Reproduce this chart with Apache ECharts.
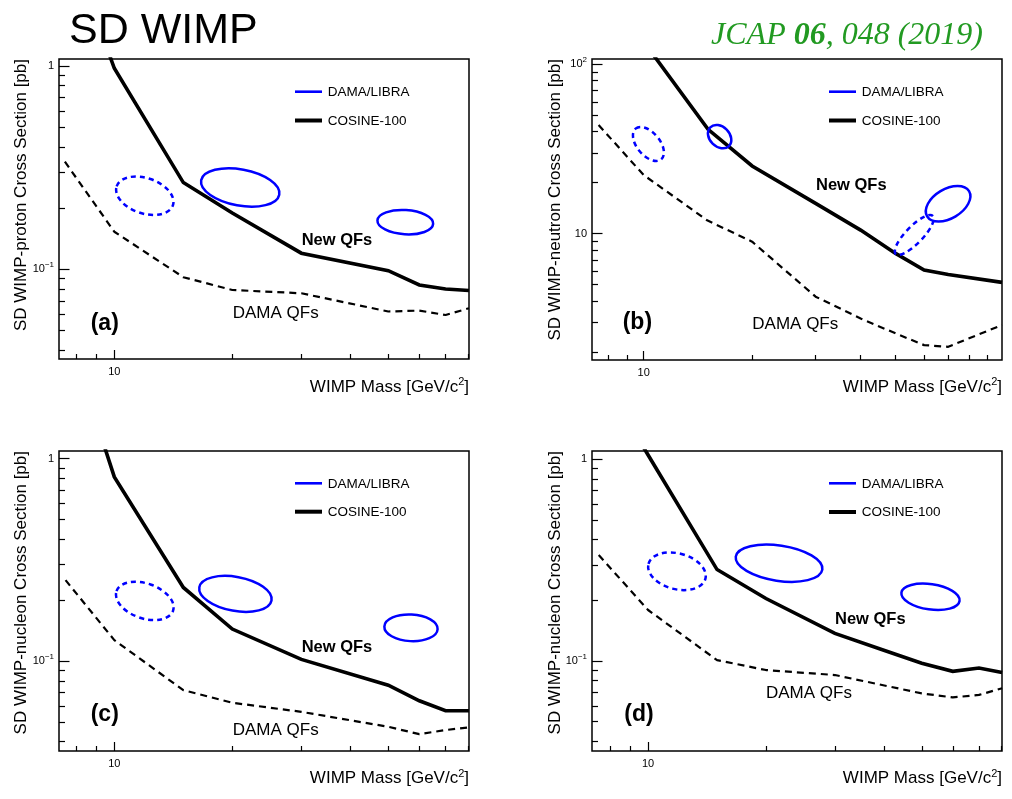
<!DOCTYPE html>
<html><head><meta charset="utf-8">
<script src="https://cdn.jsdelivr.net/npm/echarts@6/dist/echarts.min.js"></script>
<style>html,body{margin:0;padding:0;background:#fff}#c{width:1012px;height:799px}</style>
</head><body><div id="c"></div>
<script>
// ---------- data (mass in GeV/c^2, cross section in pb) ----------
// axis ranges
const xRangeA = [7.226, 80.33], yRangeA = [0.0362, 1.082];
const xRangeB = [7.19, 98.7],   yRangeB = [1.797, 107.4];
const xRangeC = [7.226, 80.33], yRangeC = [0.0360, 1.090];
const xRangeD = [7.19, 80.15],  yRangeD = [0.0358, 1.099];

// tick values
const xMajorTicks = [10];
const xMinorTicks = [8, 9, 20, 30, 40, 50, 60, 70, 80, 90];
const yMajorTicksSmall = [0.1, 1];
const yMinorTicksSmall = [0.04, 0.05, 0.06, 0.07, 0.08, 0.09, 0.2, 0.3, 0.4, 0.5, 0.6, 0.7, 0.8, 0.9];
const yMajorTicksB = [10, 100];
const yMinorTicksB = [2, 3, 4, 5, 6, 7, 8, 9, 20, 30, 40, 50, 60, 70, 80, 90];

// COSINE-100 limits, new QFs (solid)
const cosineA = [[9.0,1.70],[10,0.974],[15,0.267],[20,0.189],[30,0.120],[50,0.0985],[60,0.0837],[70,0.0800],[80.3,0.0786]];
const cosineB = [[10,136],[15.09,41.3],[20,25.1],[30,15.1],[40,10.5],[50,7.65],[60,6.10],[70,5.75],[98.7,5.16]];
const cosineC = [[9.0,1.52],[10,0.812],[15,0.231],[20,0.144],[30,0.102],[50,0.0761],[60,0.0637],[70,0.0569],[80.3,0.0569]];
const cosineD = [[9.5,1.24],[10,1.05],[15,0.284],[20,0.204],[30,0.137],[40,0.113],[50,0.0974],[60,0.0889],[70,0.0923],[80.2,0.0876]];

// COSINE-100 limits, DAMA QFs (dashed)
const damaQfA = [[7.48,0.338],[10,0.153],[15,0.0914],[20,0.0791],[30,0.0762],[50,0.0620],[60,0.0626],[70,0.0596],[80.3,0.0643]];
const damaQfB = [[7.5,43.8],[10,22.2],[15,12.0],[20,8.97],[30,4.25],[40,3.16],[50,2.58],[60,2.20],[70,2.15],[98.7,2.89]];
const damaQfC = [[7.51,0.251],[10,0.127],[15,0.0719],[20,0.0623],[30,0.0562],[50,0.0474],[60,0.0436],[70,0.0457],[80.3,0.0471]];
const damaQfD = [[7.48,0.335],[10,0.179],[15,0.101],[20,0.0902],[30,0.0852],[50,0.0691],[60,0.0660],[70,0.0679],[80.2,0.0733]];

// DAMA/LIBRA regions: [centerMass, centerSigma, majorEndMass, majorEndSigma, minorEndMass, minorEndSigma]
const libraSolidA  = [[20.95,0.2526, 26.35,0.2328, 21.36,0.309],[55.25,0.1705, 65.07,0.1671, 55.5,0.1955]];
const libraDashedA = [[11.96,0.2299, 14.11,0.2065, 12.36,0.2779]];
const libraSolidB  = [[16.25,37.38, 17.25,32.92, 17.0,41.1],[69.94,15.02, 79.97,17.82, 66.63,17.82]];
const libraDashedB = [[10.31,33.84, 11.19,27.48, 10.9,37.4],[56.34,9.825, 63.4,12.74, 54.2,10.64]];
const libraSolidC  = [[20.37,0.2148, 25.18,0.1991, 20.75,0.2597],[57.13,0.146, 66.8,0.1437, 57.37,0.1698]];
const libraDashedC = [[11.96,0.1982, 14.12,0.1773, 12.36,0.2391]];
const libraSolidD  = [[21.6,0.3055, 27.86,0.2836, 21.93,0.373],[52.63,0.2081, 62.44,0.1984, 53.19,0.2401]];
const libraDashedD = [[11.85,0.2784, 14.01,0.2559, 12.17,0.3392]];

// texts
const yTitles = ['SD WIMP-proton Cross Section [pb]','SD WIMP-neutron Cross Section [pb]','SD WIMP-nucleon Cross Section [pb]','SD WIMP-nucleon Cross Section [pb]'];
const panelTags = ['(a)','(b)','(c)','(d)'];
const legendNames = ['DAMA/LIBRA','COSINE-100'];

// ---------- layout ----------
const FONT = '"Liberation Sans", Arial, Helvetica, sans-serif';
const layout = [
  {grid:{left:59, top:59, width:410, height:300}, xr:xRangeA, yr:yRangeA, cos:cosineA, qf:damaQfA, es:libraSolidA, ed:libraDashedA, yMaj:yMajorTicksSmall, yMin:yMinorTicksSmall,
   ytx:21, legX:295, legY:[91.7,120.5], newQF:[301.7,240], damaQF:[232.7,313.3], tag:[90.7,323.3], xt:[469,387]},
  {grid:{left:592, top:59, width:410, height:301}, xr:xRangeB, yr:yRangeB, cos:cosineB, qf:damaQfB, es:libraSolidB, ed:libraDashedB, yMaj:yMajorTicksB, yMin:yMinorTicksB,
   ytx:555.5, legX:829, legY:[91.7,120.5], newQF:[816,185], damaQF:[752.3,324.3], tag:[622.7,322.7], xt:[1002,387]},
  {grid:{left:59, top:451, width:410, height:300}, xr:xRangeC, yr:yRangeC, cos:cosineC, qf:damaQfC, es:libraSolidC, ed:libraDashedC, yMaj:yMajorTicksSmall, yMin:yMinorTicksSmall,
   ytx:21, legX:295, legY:[483.3,511.7], newQF:[301.7,647.3], damaQF:[232.7,730], tag:[90.7,715], xt:[469,778.5]},
  {grid:{left:592, top:451, width:410, height:300}, xr:xRangeD, yr:yRangeD, cos:cosineD, qf:damaQfD, es:libraSolidD, ed:libraDashedD, yMaj:yMajorTicksSmall, yMin:yMinorTicksSmall,
   ytx:555.5, legX:829, legY:[483.3,512], newQF:[835,619.3], damaQF:[766,693.3], tag:[624.3,715], xt:[1002,778.5]}
];

function fmtLog(v){
  const e = Math.round(Math.log10(v));
  if (e === 0) return '1';
  if (e === 1) return '10';
  return '10{s|' + (e < 0 ? '\u2212' : '') + Math.abs(e) + '}';
}
const labelRich = {s:{fontSize:8, fontFamily:FONT, color:'#000', padding:[0,0,9,0]}};

function ellipseSeries(data, xi, yi, dashed){
  return {
    type:'custom', xAxisIndex:xi, yAxisIndex:yi, data:data, silent:true, z:4, clip:true,
    encode:{x:0, y:1},
    renderItem:function(params, api){
      const c = api.coord([api.value(0), api.value(1)]);
      const p = api.coord([api.value(2), api.value(3)]);
      const q = api.coord([api.value(4), api.value(5)]);
      const rx = Math.hypot(p[0]-c[0], p[1]-c[1]);
      const ry = Math.hypot(q[0]-c[0], q[1]-c[1]);
      const phi = Math.atan2(p[1]-c[1], p[0]-c[0]);
      return {type:'ellipse', x:c[0], y:c[1], rotation:-phi,
        shape:{cx:0, cy:0, rx:rx, ry:ry},
        style:{fill:'none', stroke:'#0000ff', lineWidth:2.5, lineDash: dashed ? [5,4] : null}};
    }
  };
}

const grid=[], xAxis=[], yAxis=[], series=[], graphic=[];
layout.forEach(function(p, i){
  grid.push(Object.assign({show:true, borderColor:'#000', borderWidth:1.5, backgroundColor:'transparent'}, p.grid));
  const inX = v => v >= p.xr[0] && v <= p.xr[1];
  const inY = v => v >= p.yr[0] && v <= p.yr[1];
  const xi = xAxis.length;
  const baseX = {type:'log', logBase:10, gridIndex:i, position:'bottom', offset:0, min:p.xr[0], max:p.xr[1],
    axisLine:{show:false}, splitLine:{show:false}, minorTick:{show:false}};
  xAxis.push(Object.assign({}, baseX, {
    axisTick:{show:true, inside:true, length:9, customValues:xMajorTicks.filter(inX), lineStyle:{color:'#000', width:1.2}},
    axisLabel:{show:true, customValues:xMajorTicks.filter(inX), formatter:fmtLog, margin:7, fontSize:11, color:'#000', fontFamily:FONT, rich:labelRich}
  }));
  xAxis.push(Object.assign({}, baseX, {
    axisTick:{show:true, inside:true, length:5, customValues:xMinorTicks.filter(inX), lineStyle:{color:'#000', width:1.2}},
    axisLabel:{show:false}
  }));
  const yi = yAxis.length;
  const baseY = {type:'log', logBase:10, gridIndex:i, position:'left', offset:0, min:p.yr[0], max:p.yr[1],
    axisLine:{show:false}, splitLine:{show:false}, minorTick:{show:false}};
  yAxis.push(Object.assign({}, baseY, {
    axisTick:{show:true, inside:true, length:10.5, customValues:p.yMaj.filter(inY), lineStyle:{color:'#000', width:1.2}},
    axisLabel:{show:true, customValues:p.yMaj.filter(inY), formatter:fmtLog, margin:5, fontSize:11, color:'#000', fontFamily:FONT, rich:labelRich}
  }));
  yAxis.push(Object.assign({}, baseY, {
    axisTick:{show:true, inside:true, length:6, customValues:p.yMin.filter(inY), lineStyle:{color:'#000', width:1.2}},
    axisLabel:{show:false}
  }));

  series.push({name:'COSINE-100', type:'line', xAxisIndex:xi, yAxisIndex:yi, data:p.cos, symbol:'none', silent:true, z:3, clip:true,
    lineStyle:{color:'#000', width:3.6, join:'miter'}});
  series.push({name:'COSINE-100 DAMA QFs', type:'line', xAxisIndex:xi, yAxisIndex:yi, data:p.qf, symbol:'none', silent:true, z:3, clip:true,
    lineStyle:{color:'#000', width:2.2, type:[7,5]}});
  series.push(ellipseSeries(p.es, xi, yi, false));
  series.push(ellipseSeries(p.ed, xi, yi, true));

  // legend
  graphic.push({type:'line', shape:{x1:p.legX, y1:p.legY[0], x2:p.legX+27, y2:p.legY[0]}, style:{stroke:'#0000ff', lineWidth:2.6}});
  graphic.push({type:'line', shape:{x1:p.legX, y1:p.legY[1], x2:p.legX+27, y2:p.legY[1]}, style:{stroke:'#000', lineWidth:4}});
  graphic.push({type:'text', x:p.legX+32.7, y:p.legY[0]+0.5, style:{text:legendNames[0], fontSize:13.5, fontFamily:FONT, fill:'#000', align:'left', verticalAlign:'middle'}});
  graphic.push({type:'text', x:p.legX+32.7, y:p.legY[1]+0.5, style:{text:legendNames[1], fontSize:13.5, fontFamily:FONT, fill:'#000', align:'left', verticalAlign:'middle'}});
  // annotations
  graphic.push({type:'text', x:p.newQF[0], y:p.newQF[1], style:{text:'New QFs', fontSize:16.5, fontWeight:'bold', fontFamily:FONT, fill:'#000', align:'left', verticalAlign:'middle'}});
  graphic.push({type:'text', x:p.damaQF[0], y:p.damaQF[1], style:{text:'DAMA QFs', fontSize:17, fontFamily:FONT, fill:'#000', align:'left', verticalAlign:'middle'}});
  graphic.push({type:'text', x:p.tag[0], y:p.tag[1], style:{text:panelTags[i], fontSize:23, fontWeight:'bold', fontFamily:FONT, fill:'#000', align:'left', verticalAlign:'middle'}});
  // axis titles
  graphic.push({type:'text', x:p.ytx, y:p.grid.top, rotation:Math.PI/2, style:{text:yTitles[i], fontSize:17, fontFamily:FONT, fill:'#000', align:'right', verticalAlign:'middle'}});
  graphic.push({type:'text', x:p.xt[0], y:p.xt[1], style:{text:'WIMP Mass [GeV/c{s|2}]', fontSize:17, fontFamily:FONT, fill:'#000', align:'right', verticalAlign:'middle',
    rich:{s:{fontSize:11, fontFamily:FONT, fill:'#000', padding:[0,0,10,0]}}}});
});

graphic.push({type:'text', x:69, y:31, style:{text:'SD WIMP', fontSize:43, fontFamily:FONT, fill:'#000', align:'left', verticalAlign:'middle'}});
graphic.push({type:'text', x:983, y:36, style:{text:'{a|JCAP }{b|06}{a|, 048 (2019)}', align:'right', verticalAlign:'middle',
  rich:{a:{fontFamily:'"Liberation Serif", "Times New Roman", serif', fontStyle:'italic', fontSize:32, fill:'#229a22'},
        b:{fontFamily:'"Liberation Serif", "Times New Roman", serif', fontStyle:'italic', fontWeight:'bold', fontSize:32, fill:'#229a22'}}}});

const chart = echarts.init(document.getElementById('c'), null, {renderer:'canvas'});
chart.setOption({animation:false, backgroundColor:'#fff', grid:grid, xAxis:xAxis, yAxis:yAxis, series:series, graphic:graphic});
</script></body></html>
